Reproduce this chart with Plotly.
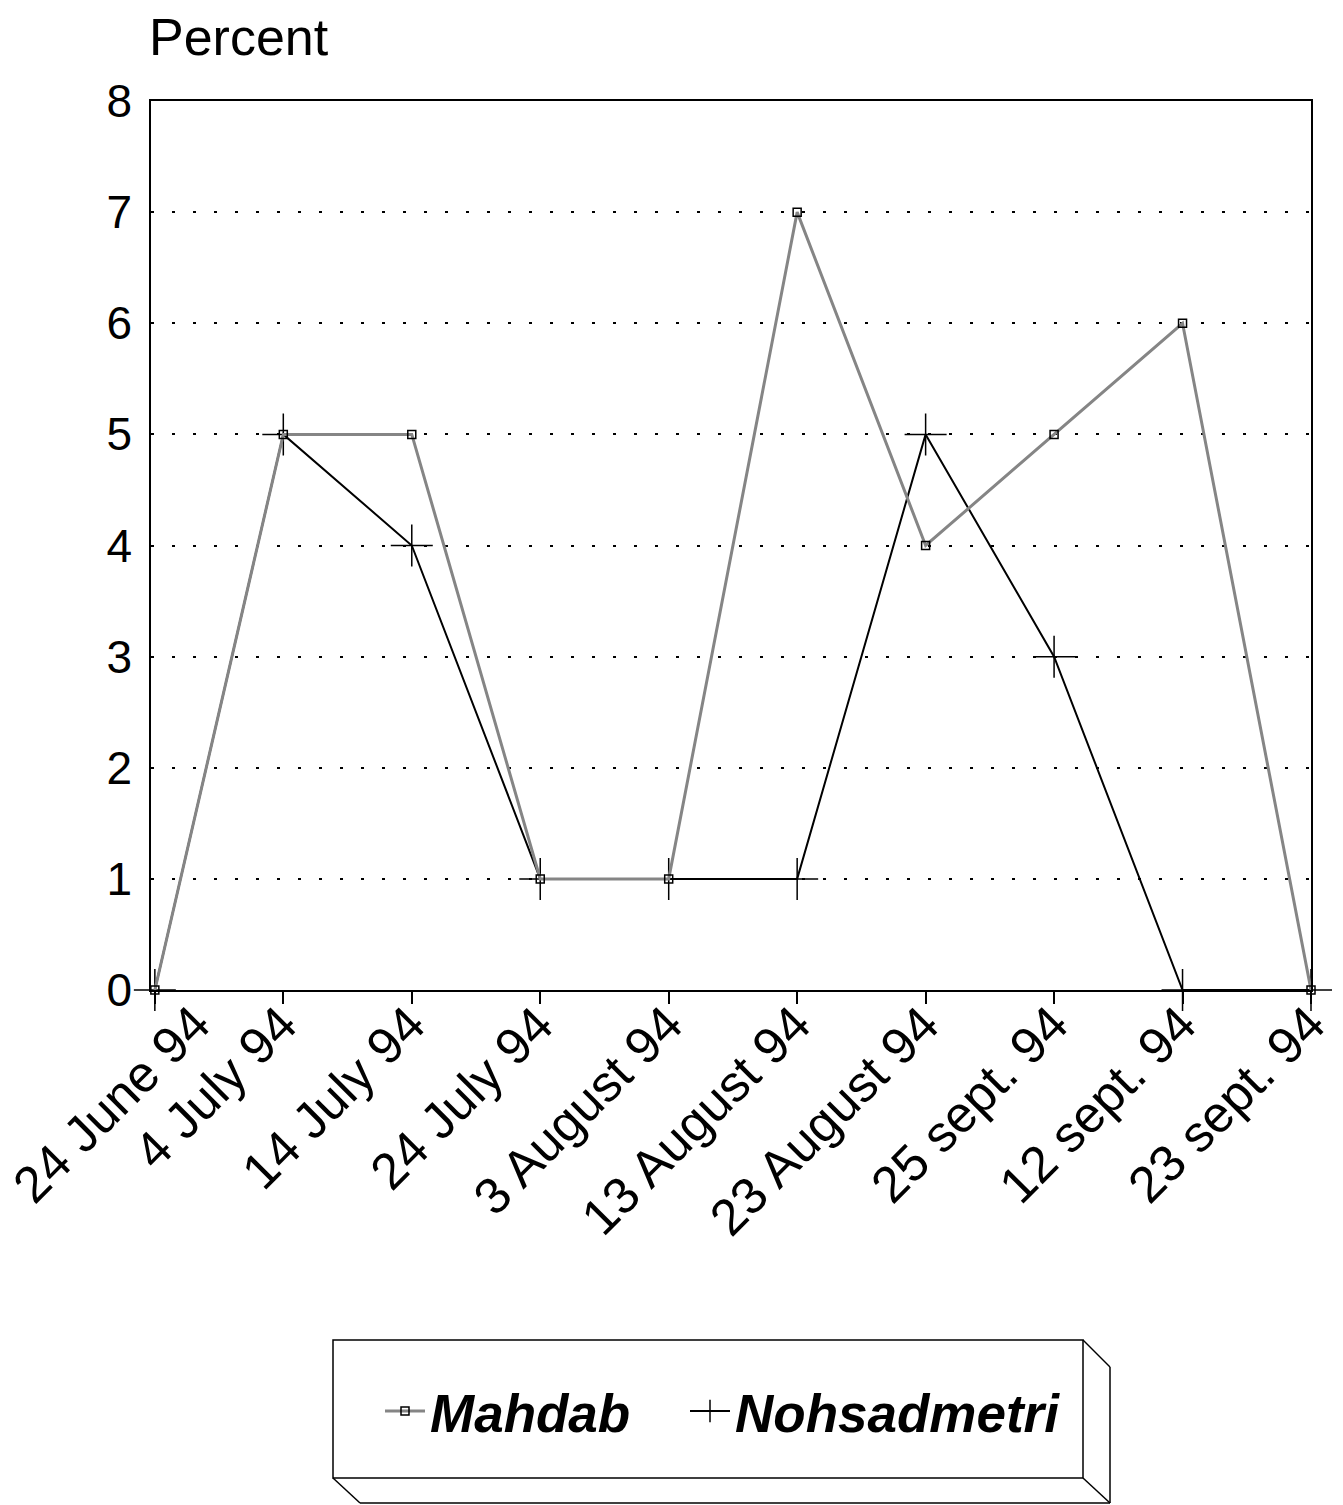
import plotly.graph_objects as go

# Sampling dates (category labels, in survey order)
dates = ["24 June 94", "4 July 94", "14 July 94", "24 July 94", "3 August 94",
         "13 August 94", "23 August 94", "25 sept. 94", "12 sept. 94", "23 sept. 94"]

# Percent values per site
mahdab = [0, 5, 5, 1, 1, 7, 4, 5, 6, 0]
nohsadmetri = [0, 5, 4, 1, 1, 1, 5, 3, 0, 0]

y_ticks = [0, 1, 2, 3, 4, 5, 6, 7, 8]

W, H = 1343, 1505
L, R, T, B = 151, 32, 101, 515
PW, PH = W - L - R, H - T - B


def px(x):
    return (x - L) / PW


def py(y):
    return (H - B - y) / PH


FONT = "Arial, Liberation Sans, sans-serif"

fig = go.Figure()

fig.add_trace(go.Scatter(
    x=dates, y=nohsadmetri, name="Nohsadmetri", mode="lines+markers",
    line=dict(color="black", width=2),
    marker=dict(symbol="cross-thin", size=30, line=dict(color="black", width=1.5)),
    cliponaxis=False, legend="legend2",
))
fig.add_trace(go.Scatter(
    x=dates, y=mahdab, name="Mahdab", mode="lines+markers",
    line=dict(color="#858585", width=3),
    marker=dict(symbol="square-open", size=8, color="black", line=dict(color="black", width=1.5)),
    cliponaxis=False, legend="legend",
))

# Legend frame drawn as a raised box
box_l, box_r, box_t, box_b, depth = 333, 1083, 1340, 1478, 27
shapes = [
    dict(type="rect", xref="paper", yref="paper", x0=px(box_l), x1=px(box_r),
         y0=py(box_b), y1=py(box_t), line=dict(color="black", width=1.5)),
]
for (x0, y0, x1, y1) in [
    (box_r, box_t, box_r + depth, box_t + depth),
    (box_r + depth, box_t + depth, box_r + depth, box_b + depth - 2),
    (box_r, box_b, box_r + depth, box_b + depth - 2),
    (box_l, box_b, box_l + depth, box_b + depth - 2),
    (box_l + depth, box_b + depth - 2, box_r + depth, box_b + depth - 2),
]:
    shapes.append(dict(type="line", xref="paper", yref="paper",
                       x0=px(x0), y0=py(y0), x1=px(x1), y1=py(y1),
                       line=dict(color="black", width=1.5)))

legend_font = dict(family=FONT, size=53, weight="bold", style="italic", color="black")
legend_common = dict(orientation="h", yanchor="middle", xanchor="left",
                     font=legend_font, bgcolor="rgba(0,0,0,0)", borderwidth=0,
                     itemwidth=40)

# Category labels, slanted under the axis
annotations = [dict(
    text="Percent", xref="paper", yref="paper", x=px(147), y=py(37),
    xanchor="left", yanchor="middle", showarrow=False,
    font=dict(family=FONT, size=52, color="black"),
)]
for i, d in enumerate(dates):
    annotations.append(dict(
        text=d, xref="x", yref="y", x=d, y=0,
        textangle=-45, xanchor="right", yanchor="top", showarrow=False,
        xshift=68 if i == 0 else 27, yshift=-2,
        font=dict(family=FONT, size=51, color="black"),
    ))

fig.update_layout(
    width=W, height=H,
    margin=dict(l=L, r=R, t=T, b=B, pad=0, autoexpand=False),
    paper_bgcolor="white", plot_bgcolor="white",
    font=dict(family=FONT, color="black"),
    showlegend=True,
    legend=dict(x=px(380), y=py(1411), **legend_common),
    legend2=dict(x=px(685), y=py(1411), **legend_common),
    shapes=shapes,
    annotations=annotations,
)

fig.update_xaxes(
    type="category", range=[-0.03, 9.0], automargin=False,
    showline=True, linecolor="black", linewidth=1.5, mirror=True,
    showgrid=False, zeroline=False, showticklabels=False,
    ticks="outside", ticklen=12, tickcolor="black", tickwidth=1.5,
)
fig.update_yaxes(
    range=[0, 8], tickvals=y_ticks, automargin=False,
    showline=True, linecolor="black", linewidth=1.5, mirror=True,
    showgrid=True, gridcolor="black", gridwidth=1.5, griddash="3px,18px",
    zeroline=False, ticks="", ticklabelstandoff=8,
    tickfont=dict(family=FONT, size=46, color="black"),
)

fig.write_html("out.html")
